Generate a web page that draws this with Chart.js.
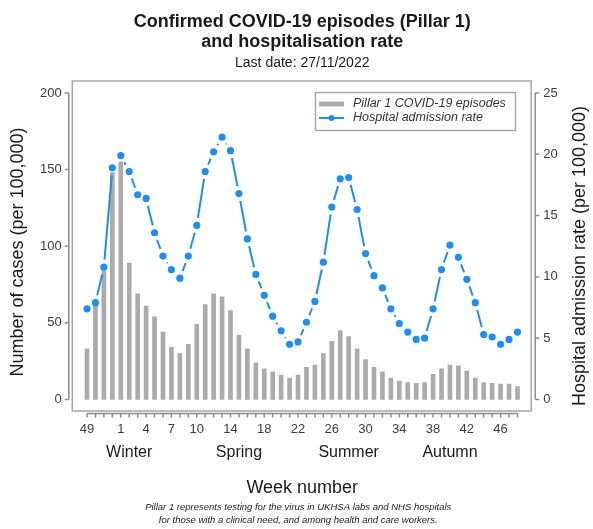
<!DOCTYPE html>
<html>
<head>
<meta charset="utf-8">
<script src="https://cdn.jsdelivr.net/npm/chart.js@4"></script>
<style>
  html, body { margin: 0; padding: 0; background: #fff; }
</style>
</head>
<body>
<canvas id="chart" width="593" height="529"></canvas>
<script>
// Weeks 49/2021 .. 48/2022
const weeks = ['49', '50', '51', '52', '1', '2', '3', '4', '5', '6', '7', '8', '9', '10',
  '11', '12', '13', '14', '15', '16', '17', '18', '19', '20', '21', '22', '23', '24',
  '25', '26', '27', '28', '29', '30', '31', '32', '33', '34', '35', '36', '37', '38',
  '39', '40', '41', '42', '43', '44', '45', '46', '47', '48'];

// Pillar 1 episodes per 100,000 (left axis)
const cases = [33, 63, 84, 148, 155, 89, 69, 61, 54, 44, 34, 30, 36, 49,
  62, 69, 67, 58, 42, 33, 24, 20, 18, 16, 14, 16, 21, 22.5,
  30, 38, 45, 41, 33, 26, 21, 18, 14, 12, 11, 10.6, 11, 16.5,
  20, 22.5, 22, 18.6, 14, 11, 10.6, 10, 10, 8.5];

// Hospital admission rate per 100,000 (right axis)
const admissionRate = [7.4, 7.9, 10.8, 18.9, 19.9, 18.6, 16.7, 16.4, 13.6, 11.7, 10.6, 9.9, 11.7, 14.2,
  18.6, 20.2, 21.4, 20.3, 16.8, 13.1, 10.2, 8.5, 6.8, 5.6, 4.5, 4.7, 6.3, 8.0,
  11.2, 15.7, 18.0, 18.1, 15.5, 11.9, 10.1, 9.1, 7.4, 6.2, 5.5, 4.9, 5.0, 7.4,
  10.6, 12.6, 11.6, 9.8, 7.9, 5.3, 5.1, 4.5, 4.9, 5.5];

const shownWeeks = ['49', '1', '4', '7', '10', '14', '18', '22', '26', '30', '34', '38', '42', '46'];
const caseTicks = [0, 50, 100, 150, 200];
const rateTicks = [0, 5, 10, 15, 20, 25];
const seasons = ['Winter', 'Spring', 'Summer', 'Autumn'];
const seasonWeeks = ['2', '15', '28', '40'];

const FONT = '"Liberation Sans", Arial, Helvetica, sans-serif';
const BAR_GREY = '#ababab';
const BLUE = '#1e8ff0';
const INK = '#1a1a1a';
const TICK_INK = '#3c3c3c';
const SPINE = '#8c8c8c';
const FRAME = '#a6a6a6';
const POINT_GAP = 7.5;

// R "type = b" look: each segment is shortened at both ends
function segmentGap(ctx) {
  const dx = ctx.p1.x - ctx.p0.x;
  const dy = ctx.p1.y - ctx.p0.y;
  const len = Math.sqrt(dx * dx + dy * dy);
  const on = Math.max(len - 2 * POINT_GAP, 0);
  return [0, POINT_GAP, on, 1000 + ctx.p0DataIndex * 0.001];
}

const decorations = {
  id: 'decorations',
  afterDraw(chart) {
    const { ctx, chartArea: a } = chart;
    const { x, y, y1 } = chart.scales;
    const cx = (a.left + a.right) / 2;
    ctx.save();

    // plot frame
    ctx.strokeStyle = FRAME;
    ctx.lineWidth = 1.5;
    ctx.strokeRect(a.left - 10.5, a.top, (a.right + 9.5) - (a.left - 10.5), a.bottom + 1 - a.top);

    // axis spines + tick marks
    ctx.strokeStyle = SPINE;
    ctx.lineWidth = 1.5;
    ctx.beginPath();
    const lx = a.left - 14;
    ctx.moveTo(lx, y.getPixelForValue(caseTicks[caseTicks.length - 1]));
    ctx.lineTo(lx, y.getPixelForValue(caseTicks[0]));
    caseTicks.forEach(v => {
      const py = y.getPixelForValue(v);
      ctx.moveTo(lx, py); ctx.lineTo(lx - 4, py);
    });
    const rx = a.right + 13.5;
    ctx.moveTo(rx, y1.getPixelForValue(rateTicks[rateTicks.length - 1]));
    ctx.lineTo(rx, y1.getPixelForValue(rateTicks[0]));
    rateTicks.forEach(v => {
      const py = y1.getPixelForValue(v);
      ctx.moveTo(rx, py); ctx.lineTo(rx + 4, py);
    });
    const by = a.bottom + 3.5;
    ctx.moveTo(x.getPixelForValue(0), by);
    ctx.lineTo(x.getPixelForValue(weeks.length - 1), by);
    weeks.forEach((w, i) => {
      const px = x.getPixelForValue(i);
      ctx.moveTo(px, by); ctx.lineTo(px, by + 4);
    });
    ctx.stroke();

    // titles
    ctx.fillStyle = INK;
    ctx.textAlign = 'center';
    ctx.textBaseline = 'middle';
    ctx.font = 'bold 18px ' + FONT;
    ctx.fillText('Confirmed COVID-19 episodes (Pillar 1)', cx, 22);
    ctx.fillText('and hospitalisation rate', cx, 42);
    ctx.font = '14px ' + FONT;
    ctx.fillText('Last date: 27/11/2022', cx, 63);

    // season labels
    ctx.font = '16px ' + FONT;
    seasons.forEach((s, i) => {
      ctx.fillText(s, x.getPixelForValue(weeks.indexOf(seasonWeeks[i])), 453);
    });

    ctx.font = '18px ' + FONT;
    ctx.fillText('Week number', cx, 488);

    ctx.font = 'italic 9.5px ' + FONT;
    ctx.fillText('Pillar 1 represents testing for the virus in UKHSA labs and NHS hospitals', cx - 4, 507);
    ctx.fillText('for those with a clinical need, and among health and care workers.', cx - 4, 520);

    // axis titles
    ctx.font = '18px ' + FONT;
    ctx.save();
    ctx.translate(18, 252);
    ctx.rotate(-Math.PI / 2);
    ctx.fillText('Number of cases (per 100,000)', 0, 0);
    ctx.restore();
    ctx.save();
    ctx.translate(580, 256);
    ctx.rotate(-Math.PI / 2);
    ctx.fillText('Hospital admission rate (per 100,000)', 0, 0);
    ctx.restore();

    // legend
    const [barSet, lineSet] = chart.data.datasets;
    ctx.strokeStyle = FRAME;
    ctx.lineWidth = 1.5;
    ctx.strokeRect(315.5, 92.5, 200, 38);
    ctx.lineWidth = 5;
    ctx.strokeStyle = barSet.backgroundColor;
    ctx.beginPath();
    ctx.moveTo(319, 104); ctx.lineTo(344, 104);
    ctx.stroke();
    ctx.lineWidth = 2;
    ctx.strokeStyle = lineSet.borderColor;
    ctx.beginPath();
    ctx.moveTo(319, 118); ctx.lineTo(344, 118);
    ctx.stroke();
    ctx.fillStyle = lineSet.pointBackgroundColor;
    ctx.beginPath();
    ctx.arc(331.5, 118, 3, 0, Math.PI * 2);
    ctx.fill();
    ctx.fillStyle = '#333';
    ctx.textAlign = 'left';
    ctx.font = 'italic 12.5px ' + FONT;
    ctx.fillText(barSet.label, 353, 104);
    ctx.fillText(lineSet.label, 353, 118);

    ctx.restore();
  }
};

const ctx = document.getElementById('chart').getContext('2d');
new Chart(ctx, {
  type: 'bar',
  data: {
    labels: weeks,
    datasets: [
      {
        type: 'bar',
        label: 'Pillar 1 COVID-19 episodes',
        data: cases,
        backgroundColor: BAR_GREY,
        barThickness: 4,
        yAxisID: 'y',
        order: 1
      },
      {
        type: 'line',
        label: 'Hospital admission rate',
        data: admissionRate,
        borderColor: BLUE,
        borderWidth: 2,
        borderCapStyle: 'butt',
        pointRadius: 3.6,
        pointBorderWidth: 0,
        pointBackgroundColor: BLUE,
        tension: 0,
        segment: { borderDash: segmentGap },
        yAxisID: 'y1',
        order: 0
      }
    ]
  },
  options: {
    responsive: false,
    animation: false,
    layout: { padding: { top: 81, left: 0, right: 0, bottom: 0 } },
    plugins: {
      legend: { display: false },
      title: { display: false },
      tooltip: { enabled: false }
    },
    scales: {
      x: {
        type: 'category',
        offset: true,
        grid: { display: false, drawTicks: false },
        border: { display: false },
        ticks: {
          autoSkip: false,
          maxRotation: 0,
          padding: 12,
          color: TICK_INK,
          font: { family: FONT, size: 13 },
          callback: (v, i) => (shownWeeks.includes(weeks[i]) ? weeks[i] : '')
        },
        afterFit: s => { s.height = 119; }
      },
      y: {
        position: 'left',
        min: -6.85,
        max: 207.8,
        grid: { display: false, drawTicks: false },
        border: { display: false },
        ticks: { padding: 21, color: TICK_INK, font: { family: FONT, size: 13 } },
        afterBuildTicks: s => { s.ticks = caseTicks.map(v => ({ value: v })); },
        afterFit: s => { s.width = 82.8; }
      },
      y1: {
        position: 'right',
        min: -0.856,
        max: 25.98,
        grid: { display: false, drawTicks: false },
        border: { display: false },
        ticks: { padding: 21.5, color: TICK_INK, font: { family: FONT, size: 13 } },
        afterBuildTicks: s => { s.ticks = rateTicks.map(v => ({ value: v })); },
        afterFit: s => { s.width = 71.3; }
      }
    }
  },
  plugins: [decorations]
});
</script>
</body>
</html>
